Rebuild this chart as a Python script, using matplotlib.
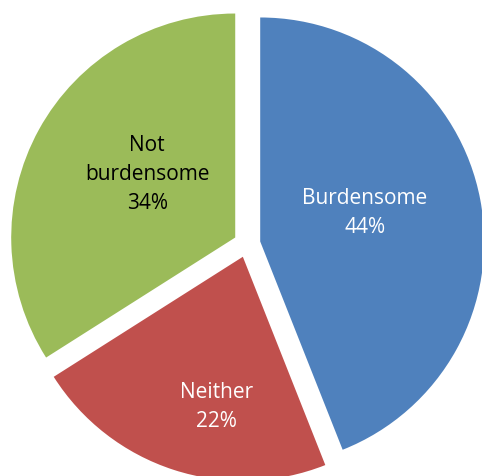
import numpy as np
import matplotlib
matplotlib.use('Agg')
import matplotlib.pyplot as plt

labels = ['Burdensome', 'Neither', 'Not\nburdensome']
values = [44, 22, 34]
colors = ['#4F81BD', '#C0504D', '#9BBB59']
text_colors = ['white', 'white', 'black']
label_dist = [0.486, 0.677, 0.485]
label_turn = [5, 8, -7]

plt.rcParams['font.family'] = ['Open Sans', 'DejaVu Sans']

fig = plt.figure(figsize=(4.82, 4.77), dpi=100)
ax = fig.add_axes([0, 0, 1, 1])

wedges, _ = ax.pie(values, colors=colors, startangle=90, counterclock=False,
                   explode=[0.06, 0.06, 0.06], radius=1,
                   wedgeprops=dict(linewidth=0))

for w, lab, v, tc, d, t in zip(wedges, labels, values, text_colors, label_dist, label_turn):
    ang = np.deg2rad((w.theta1 + w.theta2) / 2 + t)
    x = w.center[0] + d * np.cos(ang)
    y = w.center[1] + d * np.sin(ang)
    ax.text(x, y, '%s\n%d%%' % (lab, v), ha='center', va='center',
            color=tc, fontsize=15, linespacing=1.5)

s = 224.0
cx, cy = 247, 245
ax.set_xlim(-cx / s, (482 - cx) / s)
ax.set_ylim(-(477 - cy) / s, cy / s)
ax.set_aspect('auto')
ax.axis('off')

plt.savefig('out.png', dpi=100)
